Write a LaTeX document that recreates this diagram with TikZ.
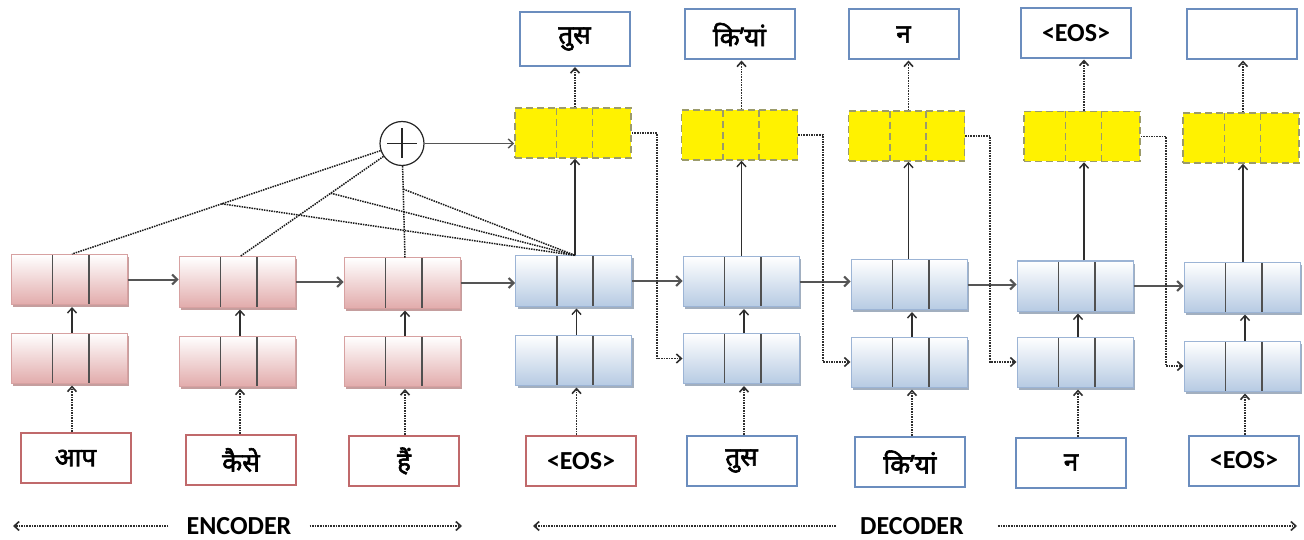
\documentclass[tikz,border=0pt]{standalone}
\usepackage{fontspec}
\setmainfont{Carlito}
\newfontfamily\devfont[Script=Devanagari,FakeBold=2.2]{Noto Sans}
\usetikzlibrary{arrows.meta,calc,shadows}
\definecolor{encborder}{HTML}{D7A1A1}
\definecolor{encfill}{HTML}{E2ACAC}
\definecolor{encshadow}{HTML}{BF9494}
\definecolor{decborder}{HTML}{9CB4D5}
\definecolor{decfill}{HTML}{B7CBE3}
\definecolor{decshadow}{HTML}{98A6B8}
\definecolor{redbox}{HTML}{C0696B}
\definecolor{bluebox}{HTML}{6B8DBE}
\definecolor{yelborder}{HTML}{9B9B6B}
\definecolor{divcol}{HTML}{505050}
\definecolor{arrowcol}{HTML}{2E2E2E}
\definecolor{chaincol}{HTML}{555555}
\begin{document}
\begin{tikzpicture}[x=1pt,y=-1pt,
  threecell/.style={rectangle, minimum width=116pt, minimum height=50pt, inner sep=0pt,
    path picture={
      \foreach \f in {0.357,0.67}{
        \draw[#1] ($(path picture bounding box.north west)!\f!(path picture bounding box.north east)$) --
                  ($(path picture bounding box.south west)!\f!(path picture bounding box.south east)$);}
    }},
  encblk/.style={threecell={divcol, line width=1.6pt}, draw=encborder, line width=1pt,
    top color=white, bottom color=encfill,
    drop shadow={shadow xshift=2pt, shadow yshift=-2.5pt, fill=encshadow, opacity=0.9}},
  decblk/.style={threecell={divcol, line width=1.6pt}, draw=decborder, line width=1pt,
    top color=white, bottom color=decfill,
    drop shadow={shadow xshift=2pt, shadow yshift=-2.5pt, fill=decshadow, opacity=0.9}},
  yelblk/.style={threecell={yelborder, line width=1.5pt, dash pattern=on 7pt off 4pt},
    fill=yellow, draw=yelborder, line width=1.5pt, dash pattern=on 7pt off 4pt},
  word/.style={rectangle, minimum width=110pt, minimum height=50pt, inner sep=0pt,
    line width=2pt, fill=white, font=\bfseries\fontsize{26}{30}\selectfont},
  redword/.style={word, draw=redbox},
  blueword/.style={word, draw=bluebox},
  upar/.style={draw=arrowcol, line width=1.4pt, -{Straight Barb[length=5pt,width=9pt]}},
  chain/.style={draw=chaincol, line width=2pt, -{Straight Barb[length=5pt,width=10pt]}},
  dotar/.style={draw=arrowcol, line width=1.6pt, dash pattern=on 1.6pt off 1pt,
    -{Straight Barb[length=5pt,width=9pt]}},
  attn/.style={draw=black!90, line width=1.5pt, dash pattern=on 1.5pt off 1pt},
  sumnode/.style={circle, draw=black!85, line width=1.2pt, fill=white, minimum size=44pt, inner sep=0pt,
    path picture={\draw[black!85, line width=1.1pt]
      ([xshift=7pt]path picture bounding box.west) -- ([xshift=-7pt]path picture bounding box.east)
      ([yshift=-7pt]path picture bounding box.north) -- ([yshift=7pt]path picture bounding box.south);}},
  lbl/.style={font=\bfseries\fontsize{26}{30}\selectfont, inner sep=0pt}
]
\useasboundingbox (0,0) rectangle (1304,540);
\newcommand\dv[1]{{\devfont\mdseries\fontsize{26}{30}\selectfont #1}}

% encoder blocks
\node[encblk] (u1) at (69,279.5) {};
\node[encblk] (l1) at (69,358) {};
\node[encblk] (u2) at (237,282) {};
\node[encblk] (l2) at (237,361) {};
\node[encblk] (u3) at (402,283) {};
\node[encblk] (l3) at (402,361.5) {};
% decoder blocks
\node[decblk] (u4) at (573.5,281) {};
\node[decblk] (l4) at (573.5,360) {};
\node[decblk] (u5) at (741,281.5) {};
\node[decblk] (l5) at (741,358.5) {};
\node[decblk] (u6) at (909,284.5) {};
\node[decblk] (l6) at (909,362) {};
\node[decblk] (u7) at (1075,286) {};
\node[decblk] (l7) at (1075,362) {};
\node[decblk] (u8) at (1242,287) {};
\node[decblk] (l8) at (1242,366) {};
% yellow attention outputs
\node[yelblk] (y4) at (573,133) {};
\node[yelblk] (y5) at (739.5,135) {};
\node[yelblk] (y6) at (906.5,136) {};
\node[yelblk] (y7) at (1082,136.5) {};
\node[yelblk] (y8) at (1241,138) {};
% output words
\node[blueword, minimum height=54pt] (o4) at (574.5,39) {\dv{तुस}};
\node[blueword] (o5) at (739.5,34.5) {\dv{कि’यां}};
\node[blueword] (o6) at (903.5,34.5) {\dv{न}};
\node[blueword] (o7) at (1076,33.5) {<EOS>};
\node[blueword] (o8) at (1241.5,34.5) {};
% input words
\node[redword] (i1) at (75.5,458) {\dv{आप}};
\node[redword] (i2) at (241,460) {\dv{कैसे}};
\node[redword] (i3) at (404,461) {\dv{हैं}};
\node[redword] (i4) at (581,461) {<EOS>};
\node[blueword] (i5) at (741.5,461) {\dv{तुस}};
\node[blueword] (i6) at (910,462) {\dv{कि’यां}};
\node[blueword] (i7) at (1071,462.5) {\dv{न}};
\node[blueword] (i8) at (1244,460.5) {<EOS>};
% sum node
\node[sumnode] (sum) at (402,143.5) {};

% input -> lower, lower -> upper
\foreach \k in {1,...,8}{
  \draw[dotar] ([xshift=3pt]l\k.south |- i\k.north) -- ([xshift=3pt,yshift=-2pt]l\k.south);
  \draw[upar] ([xshift=3pt]l\k.north) -- ([xshift=3pt,yshift=-2pt]u\k.south);
}
% recurrent chain
\foreach \a/\b in {1/2,2/3,3/4,4/5,5/6,6/7,7/8}{
  \draw[chain] (u\a.east) -- (u\a.east -| u\b.west);
}
% upper -> yellow -> output
\foreach \k in {4,...,8}{
  \draw[upar] ([xshift=2pt]y\k.south |- u\k.north) -- ([xshift=2pt]y\k.south);
  \draw[dotar] ([xshift=2pt]y\k.north) -- ([xshift=2pt]y\k.north |- o\k.south);
}
% feedback of attention output to next input
\foreach \a/\b in {4/5,5/6,6/7,7/8}{
  \draw[dotar] (y\a.east) -- ++(25,0) |- (l\b.west);
}
% attention lines
\draw[attn] (sum) -- ([xshift=3pt]u1.north);
\draw[attn] (sum) -- ([xshift=3pt]u2.north);
\draw[attn] (sum) -- ([xshift=3pt]u3.north);
\coordinate (a1) at ($(sum)!0.546!([xshift=3pt]u1.north)$);
\coordinate (a2) at ($(sum)!0.44!([xshift=3pt]u2.north)$);
\coordinate (a3) at ($(sum)!0.4!([xshift=3pt]u3.north)$);
\draw[attn] (a1) -- ([xshift=2pt]u4.north);
\draw[attn] (a2) -- ([xshift=2pt]u4.north);
\draw[attn] (a3) -- ([xshift=2pt]u4.north);
\draw[upar, draw=chaincol] (sum.east) -- (sum.east -| y4.west);

% bottom labels
\node[lbl] (enc) at (239,526) {ENCODER};
\node[lbl] (dec) at (912,526) {DECODER};
\coordinate (encL) at (13,526);
\coordinate (encR) at (462,526);
\coordinate (decL) at (533,526);
\coordinate (decR) at (1297,526);
\draw[dotar] ([xshift=-18pt]enc.west) -- (encL);
\draw[dotar] ([xshift=18pt]enc.east) -- (encR);
\draw[dotar] ([xshift=-24pt]dec.west) -- (decL);
\draw[dotar] ([xshift=34pt]dec.east) -- (decR);
\end{tikzpicture}
\end{document}
